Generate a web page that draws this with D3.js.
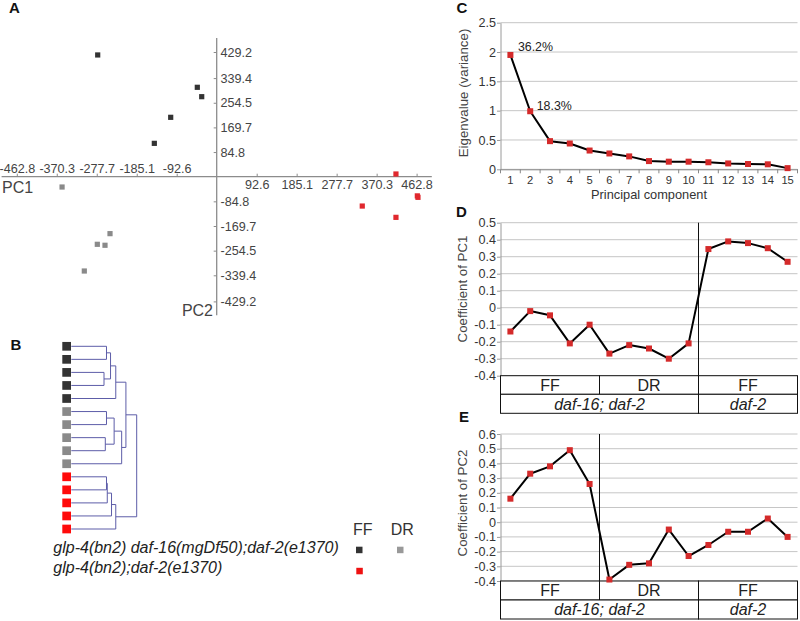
<!DOCTYPE html>
<html><head><meta charset="utf-8">
<script src="https://cdn.jsdelivr.net/npm/d3@7"></script>
<style>
body{margin:0;background:#fff}
svg{display:block;font-family:"Liberation Sans",Arial,sans-serif}
</style></head><body>
<svg id="chart" width="800" height="621"></svg>
<script>
// ---------- DATA ----------
// Panel A: PCA scores [PC1, PC2]
const pcaFFdaf16 = [[-275.5,419],[-44.9,307.7],[-34.7,275.4],[-106.5,204.4],[-144.4,114.8]];
const pcaDRdaf16 = [[-358,-35.5],[-247,-196],[-276.4,-232.7],[-258.6,-236],[-306.5,-324.6]];
const pcaFFdaf2  = [[415,9.3],[464.5,-66],[466,-71],[337,-101],[415,-139.9]];
const pc1TickLabels = ["-462.8","-370.3","-277.7","-185.1","-92.6","92.6","185.1","277.7","370.3","462.8"];
const pc2TickLabels = ["429.2","339.4","254.5","169.7","84.8","-84.8","-169.7","-254.5","-339.4","-429.2"];

// Panel B: dendrogram leaves (groups) and linkage [childA, childB, height]
const leafGroups = ["FFd16","FFd16","FFd16","FFd16","FFd16","DRd16","DRd16","DRd16","DRd16","DRd16","FFd2","FFd2","FFd2","FFd2","FFd2"];
const linkage = [
  [0,1,0.538],[2,3,0.50],[15,16,0.60],[17,4,0.68],
  [5,6,0.538],[7,8,0.52],[19,20,0.655],[21,9,0.77],
  [18,22,0.835],
  [10,11,0.538],[24,12,0.55],[25,13,0.615],[26,14,0.68],
  [23,27,1.0]
];
const legendStrains = ["glp-4(bn2) daf-16(mgDf50);daf-2(e1370)","glp-4(bn2);daf-2(e1370)"];
const legendConditions = ["FF","DR"];

// Panel C: eigenvalues
const pcLabels = ["1","2","3","4","5","6","7","8","9","10","11","12","13","14","15"];
const eigenvalues = [1.95,0.99,0.48,0.44,0.32,0.27,0.22,0.14,0.13,0.13,0.12,0.10,0.09,0.085,0.02];
const varianceLabels = ["36.2%","18.3%"];

// Panels D/E: coefficients
const pc1Coef = [-0.14,-0.02,-0.045,-0.21,-0.10,-0.27,-0.22,-0.24,-0.30,-0.21,0.345,0.39,0.38,0.35,0.27];
const pc2Coef = [0.16,0.33,0.38,0.49,0.26,-0.39,-0.29,-0.28,-0.05,-0.23,-0.155,-0.065,-0.065,0.025,-0.10];
const conditionRow = ["FF","DR","FF"];
const conditionSpan = [5,5,5];
const strainRow = ["daf-16; daf-2","daf-2"];
const strainSpan = [10,5];

// ---------- DRAW ----------
const svg = d3.select("#chart");
const colors = {FFd16:"#333333", DRd16:"#8a8a8a", FFd2:"#e8242a"};

function panelLabel(t,x,y){
  svg.append("text").attr("x",x).attr("y",y).attr("font-weight","bold")
     .attr("font-size",15).attr("fill","#111").text(t);
}
panelLabel("A",9,13); panelLabel("B",10.5,350); panelLabel("C",456.5,13);
panelLabel("D",456,217); panelLabel("E",459,421.7);

// ----- Panel A -----
const xA = d3.scaleLinear().domain([0,462.8]).range([216.7,416.6]);
const yA = d3.scaleLinear().domain([0,429.2]).range([176.7,52]);
const gA = svg.append("g");
const axCol = "#8c8c8c";
gA.append("line").attr("x1",xA(-498)).attr("x2",xA(498)).attr("y1",yA(0)).attr("y2",yA(0))
  .attr("stroke",axCol).attr("stroke-width",1.3);
gA.append("line").attr("x1",xA(0)).attr("x2",xA(0)).attr("y1",yA(477)).attr("y2",yA(-477))
  .attr("stroke",axCol).attr("stroke-width",1.3);
function styleAxis(g,fs,fill,tickCol){
  g.attr("font-family",null).attr("font-size",fs);
  g.select(".domain").remove();
  g.selectAll(".tick line").attr("stroke",tickCol);
  g.selectAll(".tick text").attr("fill",fill);
}
const xVals = pc1TickLabels.map(Number);
const yVals = pc2TickLabels.map(Number);
gA.append("g").attr("transform",`translate(0,${yA(0)})`)
  .call(d3.axisTop(xA).tickValues(xVals.filter(v=>v<0)).tickSize(3).tickPadding(0.6)
        .tickFormat(d=>pc1TickLabels[xVals.indexOf(d)]))
  .call(g=>styleAxis(g,12.6,"#444",axCol));
gA.append("g").attr("transform",`translate(0,${yA(0)})`)
  .call(d3.axisBottom(xA).tickValues(xVals.filter(v=>v>0)).tickSize(-3).tickPadding(3.7)
        .tickFormat(d=>pc1TickLabels[xVals.indexOf(d)]))
  .call(g=>styleAxis(g,12.6,"#444",axCol));
gA.append("g").attr("transform",`translate(${xA(0)},0)`)
  .call(d3.axisRight(yA).tickValues(yVals).tickSize(-3).tickPadding(3.8)
        .tickFormat(d=>pc2TickLabels[yVals.indexOf(d)]))
  .call(g=>styleAxis(g,12.6,"#444",axCol));
gA.append("text").attr("x",2).attr("y",193.3).attr("font-size",16).attr("fill","#444").text("PC1");
gA.append("text").attr("x",213).attr("y",316).attr("text-anchor","end").attr("font-size",16).attr("fill","#444").text("PC2");
[[pcaFFdaf16,colors.FFd16],[pcaDRdaf16,colors.DRd16],[pcaFFdaf2,"#e0282e"]].forEach(([pts,c])=>{
  gA.selectAll(null).data(pts).enter().append("rect")
    .attr("x",d=>xA(d[0])-2.6).attr("y",d=>yA(d[1])-2.6)
    .attr("width",5.2).attr("height",5.2).attr("fill",c);
});

// ----- Panel B -----
const gB = svg.append("g");
const yB = d3.scaleLinear().domain([0,leafGroups.length-1]).range([346.3,529]);
const xB = d3.scaleLinear().domain([0,1]).range([71.3,136.7]);
const nodes = leafGroups.map((g,i)=>({y:yB(i),h:0}));
linkage.forEach(([a,b,h])=>{ nodes.push({y:(nodes[a].y+nodes[b].y)/2,h:h,a:a,b:b}); });
const linkCol = "#5d5da8";
nodes.forEach(n=>{
  if(n.a===undefined) return;
  const A=nodes[n.a], B=nodes[n.b];
  gB.append("path")
    .attr("d",`M${xB(A.h)},${A.y}H${xB(n.h)}V${B.y}H${xB(B.h)}`)
    .attr("fill","none").attr("stroke",linkCol).attr("stroke-width",1);
});
gB.selectAll(null).data(leafGroups).enter().append("rect")
  .attr("x",62.3).attr("y",(d,i)=>yB(i)-4.35).attr("width",8.7).attr("height",8.7)
  .attr("fill",d=>d==="FFd2"?"#ff0a0a":colors[d]);
// legend
legendStrains.forEach((s,i)=>{
  gB.append("text").attr("x",53.3).attr("y",553.3+i*20).attr("font-size",16)
    .attr("font-style","italic").attr("fill","#222").text(s);
});
legendConditions.forEach((s,i)=>{
  gB.append("text").attr("x",353+i*37.7).attr("y",535).attr("font-size",16).attr("fill","#333").text(s);
});
gB.append("rect").attr("x",356).attr("y",546.7).attr("width",6.5).attr("height",6.5).attr("fill","#333");
gB.append("rect").attr("x",397).attr("y",546.7).attr("width",6.5).attr("height",6.5).attr("fill","#999");
gB.append("rect").attr("x",356.3).attr("y",567.8).attr("width",6.5).attr("height",6.5).attr("fill","#ee1111");

// ----- Panels C/D/E common -----
const xC = d3.scaleBand().domain(pcLabels).range([500.5,797.5]);
const bw = xC.bandwidth();
const gridCol = "#c6c6c6", leftAxisCol = "#9a9a9a";
const markerCol = "#d42a2a";

function gridAndLeftAxis(g,y,ticks,fmt){
  g.selectAll(null).data(ticks).enter().append("line")
    .attr("x1",500.5).attr("x2",797.5).attr("y1",d=>y(d)).attr("y2",d=>y(d))
    .attr("stroke",gridCol).attr("stroke-width",1);
  g.append("g").attr("transform","translate(500.5,0)")
    .call(d3.axisLeft(y).tickValues(ticks).tickSize(3.5).tickSizeOuter(0).tickPadding(1).tickFormat(fmt))
    .call(a=>{
      a.attr("font-family",null).attr("font-size",12.6);
      a.select(".domain").attr("stroke",leftAxisCol);
      a.selectAll(".tick line").attr("stroke",leftAxisCol);
      a.selectAll(".tick text").attr("fill","#333");
    });
}
function seriesLine(g,vals,y){
  const data = vals.map((v,i)=>({pc:pcLabels[i],v:v}));
  g.append("path").datum(data)
    .attr("d",d3.line().x(d=>xC(d.pc)+bw/2).y(d=>y(d.v)))
    .attr("fill","none").attr("stroke","#000").attr("stroke-width",2).attr("stroke-linejoin","round");
  g.selectAll(null).data(data).enter().append("rect")
    .attr("x",d=>xC(d.pc)+bw/2-3).attr("y",d=>y(d.v)-3).attr("width",6).attr("height",6)
    .attr("fill",markerCol);
}
function yTitle(g,t,cx,cy){
  g.append("text").attr("transform",`translate(${cx},${cy}) rotate(-90)`)
    .attr("text-anchor","middle").attr("font-size",13.3).attr("fill","#444").text(t);
}

// ----- Panel C -----
const gC = svg.append("g");
const yC = d3.scaleLinear().domain([0,2.5]).range([169.3,22.7]);
gridAndLeftAxis(gC,yC,[0,0.5,1,1.5,2,2.5],d=>String(d));
gC.append("g").attr("transform",`translate(0,${yC(0)})`)
  .call(d3.axisBottom(xC).tickSize(0).tickPadding(6.8))
  .call(a=>{
    a.attr("font-family",null).attr("font-size",11.2);
    a.select(".domain").attr("stroke","#888");
    a.selectAll(".tick text").attr("fill","#333");
  });
gC.selectAll(null).data(d3.range(pcLabels.length+1)).enter().append("line")
  .attr("x1",i=>500.5+i*bw).attr("x2",i=>500.5+i*bw)
  .attr("y1",yC(0)).attr("y2",yC(0)+4).attr("stroke","#888");
gC.append("text").attr("x",649).attr("y",198.6).attr("text-anchor","middle")
  .attr("font-size",12.8).attr("fill","#333").text("Principal component");
yTitle(gC,"Eigenvalue (variance)",467.5,93);
seriesLine(gC,eigenvalues,yC);
const annDx=[7.5,6.5], annDy=[-4.3,-1.2];
varianceLabels.forEach((t,i)=>{
  gC.append("text").attr("x",xC(pcLabels[i])+bw/2+annDx[i]).attr("y",yC(eigenvalues[i])+annDy[i])
    .attr("font-size",12.4).attr("fill","#222").text(t);
});

// ----- Panels D/E -----
function coefPanel(vals,yDomain,yRange,title,titleCy,rowTops,rowH,dividerIdx,dividerBottom){
  const g = svg.append("g");
  const y = d3.scaleLinear().domain(yDomain).range(yRange);
  const ticks = d3.range(Math.round(yDomain[0]*10),Math.round(yDomain[1]*10)+1).map(i=>i/10);
  gridAndLeftAxis(g,y,ticks,d=>String(+d.toFixed(1)));
  yTitle(g,title,467,titleCy);
  // table
  const x0 = 500.5;
  const rows = [[conditionRow,conditionSpan,"normal"],[strainRow,strainSpan,"italic"]];
  rows.forEach(([labels,spans,style],r)=>{
    let start=0;
    labels.forEach((lab,j)=>{
      const xa = x0+start*bw, xb = x0+(start+spans[j])*bw;
      g.append("rect").attr("x",xa).attr("y",rowTops[r]).attr("width",xb-xa).attr("height",rowH[r])
        .attr("fill","#fff").attr("stroke","#111").attr("stroke-width",1);
      g.append("text").attr("x",(xa+xb)/2).attr("y",rowTops[r]+rowH[r]/2+5.7)
        .attr("text-anchor","middle").attr("font-size",16).attr("font-style",style)
        .attr("fill","#222").text(lab);
      start+=spans[j];
    });
  });
  g.append("line").attr("x1",x0+dividerIdx*bw).attr("x2",x0+dividerIdx*bw)
    .attr("y1",yRange[1]).attr("y2",dividerBottom).attr("stroke","#111").attr("stroke-width",1);
  seriesLine(g,vals,y);
}
coefPanel(pc1Coef,[-0.4,0.5],[375.7,222.7],"Coefficient of PC1",289,[375.7,394.3],[18.6,19],10,413.3);
coefPanel(pc2Coef,[-0.4,0.6],[581,434],"Coefficient of PC2",503,[581,600],[19,19],5,600);
</script>
</body></html>
